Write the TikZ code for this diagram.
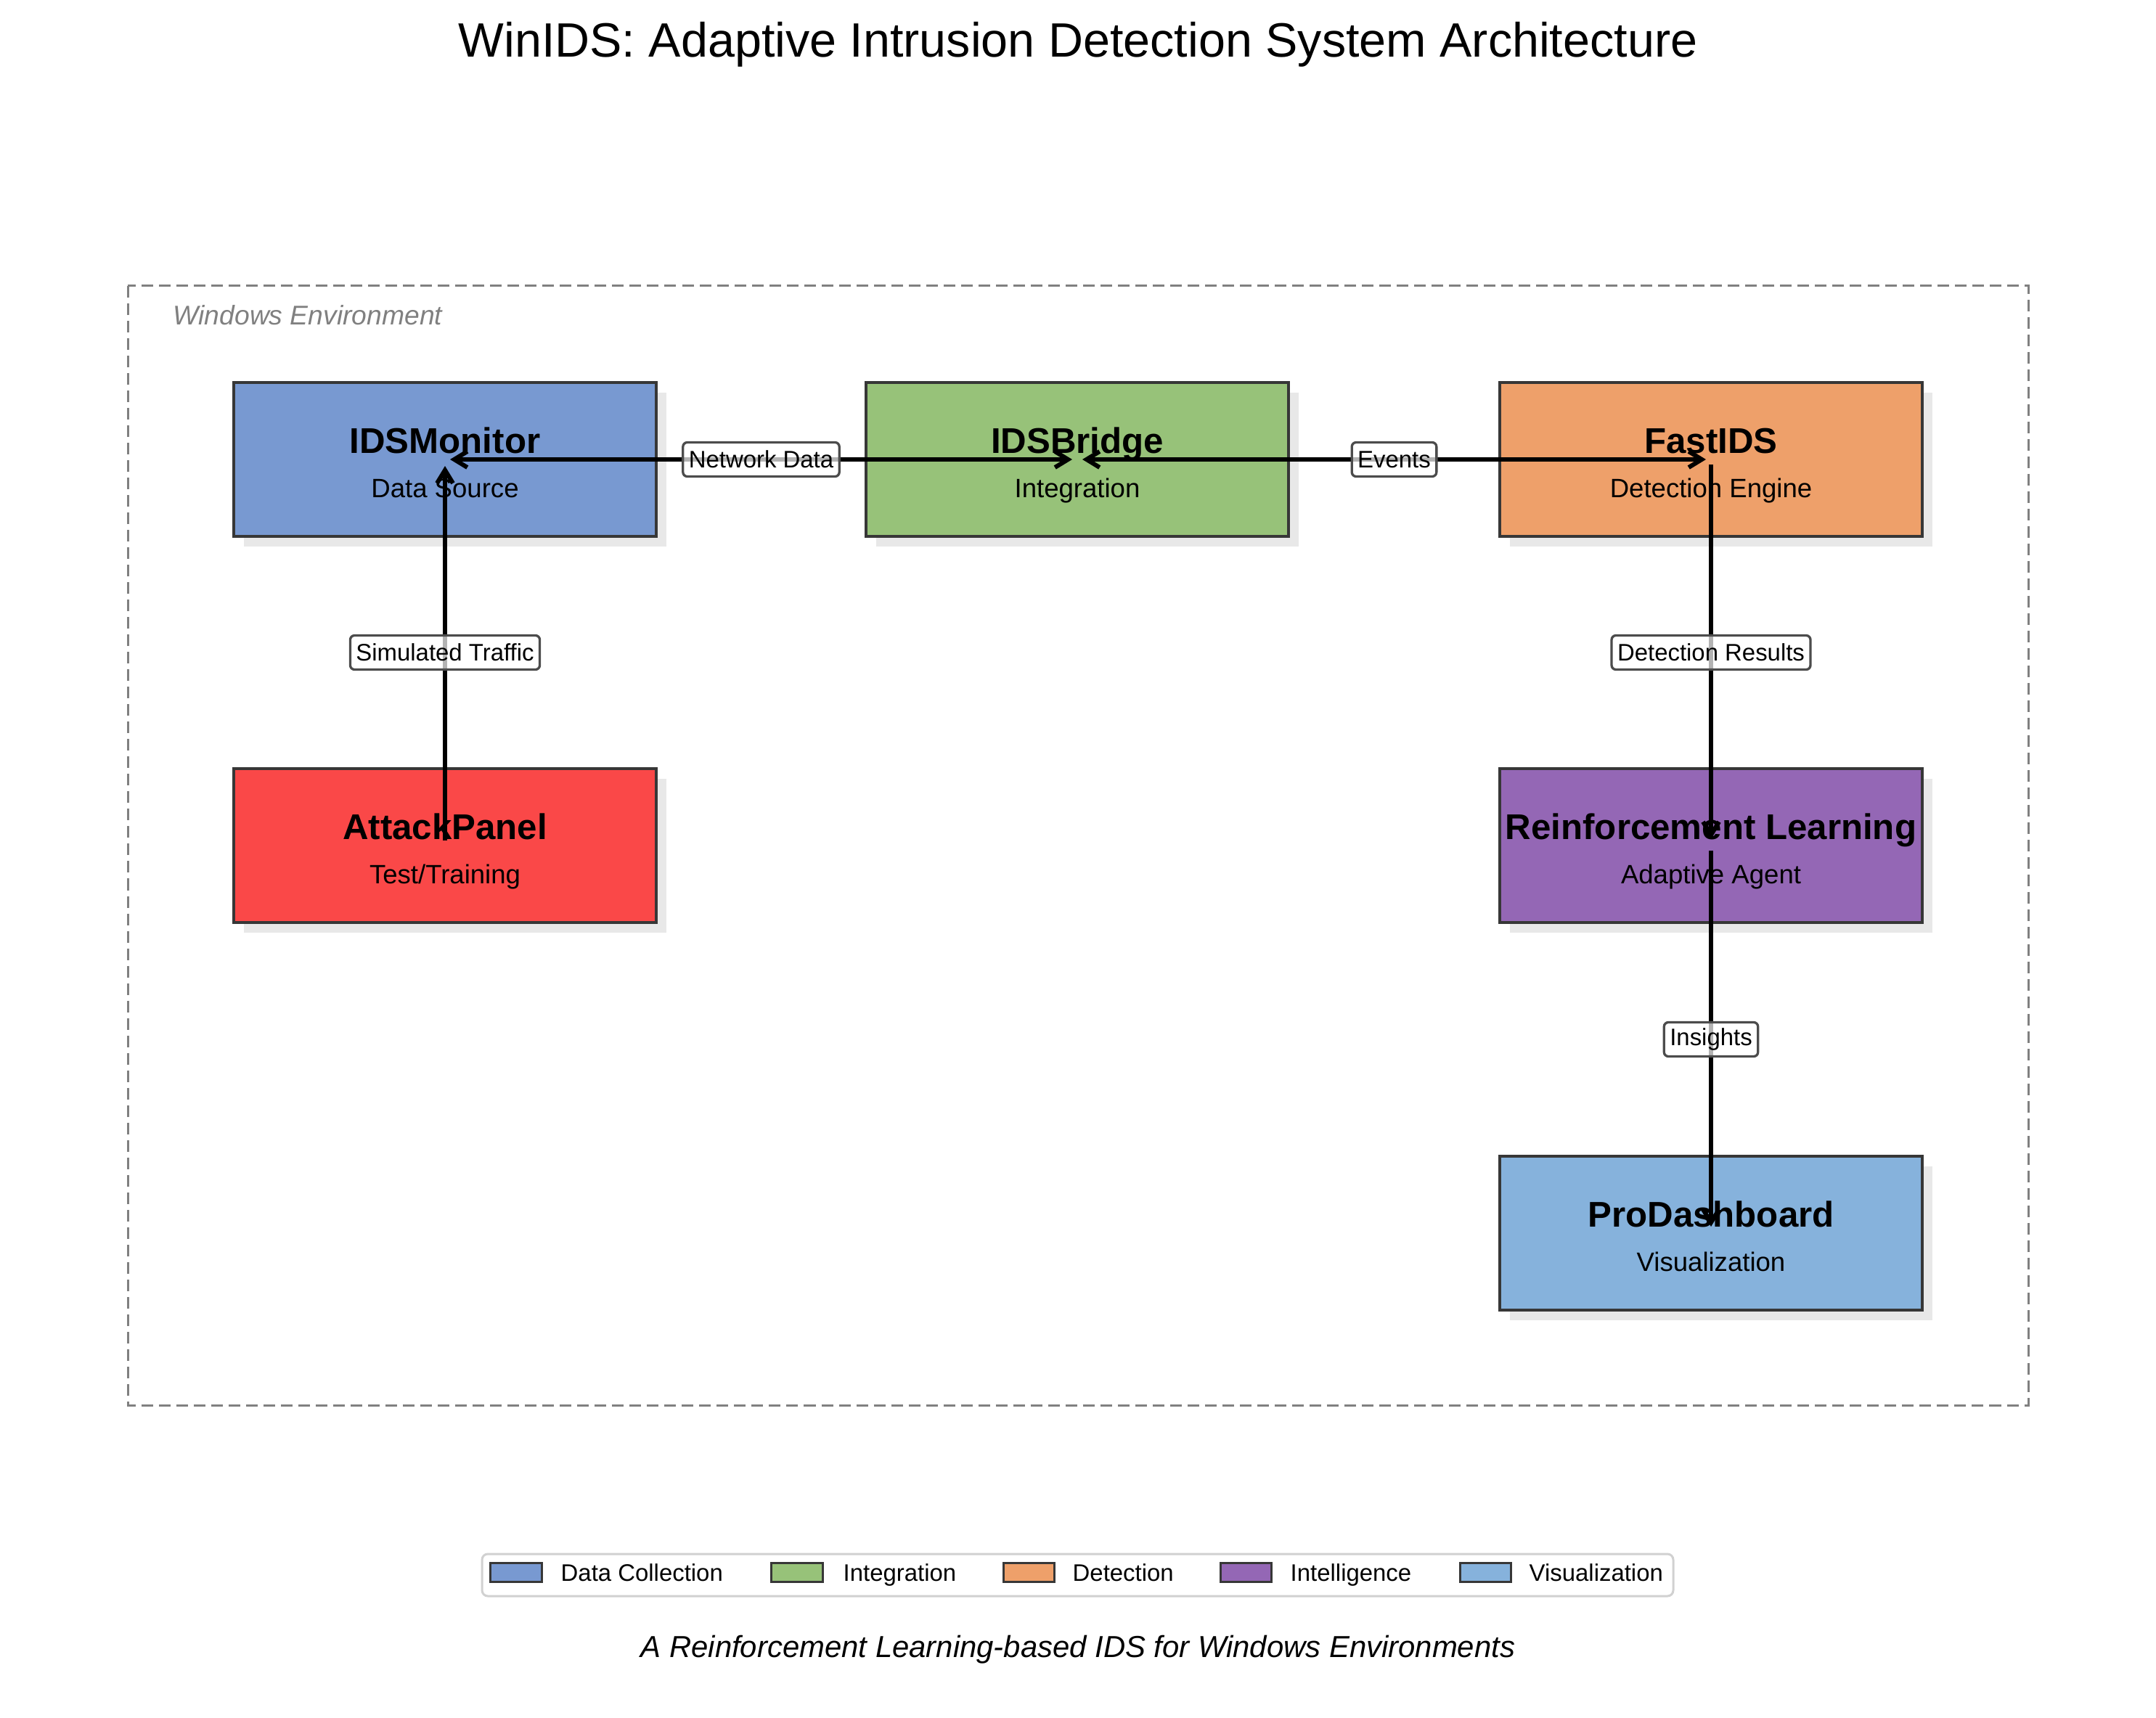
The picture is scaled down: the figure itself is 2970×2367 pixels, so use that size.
\documentclass[tikz,border=0pt]{standalone}
\usepackage{fontspec}
\setmainfont{Liberation Sans}
\usetikzlibrary{arrows.meta}
\definecolor{cmon}{RGB}{120,153,209}
\definecolor{cbri}{RGB}{151,194,121}
\definecolor{cfast}{RGB}{238,160,106}
\definecolor{catk}{RGB}{250,72,72}
\definecolor{crl}{RGB}{148,103,181}
\definecolor{cdash}{RGB}{134,178,220}
\definecolor{cborder}{RGB}{55,55,55}
\definecolor{cshadow}{RGB}{232,232,232}
\definecolor{cenv}{RGB}{128,128,128}
\begin{document}
\begin{tikzpicture}[x=0.01cm,y=-0.01cm,
  comp/.style={draw=cborder, line width=0.04cm, minimum width=5.82cm, minimum height=2.12cm, inner sep=0},
  shadowbox/.style={fill=cshadow, minimum width=5.82cm, minimum height=2.12cm, inner sep=0},
  ctitle/.style={font=\fontsize{14}{16}\selectfont\bfseries, anchor=base, inner sep=0},
  csub/.style={font=\fontsize{10.4}{12}\selectfont, anchor=base, inner sep=0},
  tip/.tip={Straight Barb[length=0.18cm,width=0.22cm]},
  flow/.style={line width=0.06cm, -tip, shorten >=0.09cm, shorten <=0.07cm},
  biflow/.style={line width=0.06cm, tip-tip, shorten >=0.07cm, shorten <=0.07cm},
  elabel/.style={draw=black!70, line width=0.033cm, rounded corners=0.06cm, fill=white, fill opacity=0.7, text opacity=1, font=\fontsize{9.36}{11}\selectfont, inner xsep=0.08cm, inner ysep=0, minimum height=0.47cm},
  envbox/.style={draw=cenv, dash pattern=on 0.16cm off 0.08cm, line width=0.03cm},
  swatch/.style={draw=cborder, line width=0.03cm, minimum width=0.70cm, minimum height=0.26cm, inner sep=0},
  legtext/.style={font=\fontsize{9.36}{11}\selectfont, anchor=base west, inner sep=0}
]
\useasboundingbox (0,0) rectangle (2970,2367);
\node[font=\fontsize{18.9}{22}\selectfont, anchor=base, inner sep=0] (title) at (1485,79) {WinIDS: Adaptive Intrusion Detection System Architecture};

\draw[envbox] (176,394) rectangle (2794,1936);
\node[font=\fontsize{10.6}{12}\selectfont\itshape, text=cenv, anchor=base west, inner sep=0] (env) at (238,447) {Windows Environment};

% shadows
\node[shadowbox] (monS) at (627,647) {};
\node[shadowbox] (briS) at (1498,647) {};
\node[shadowbox] (fastS) at (2371,647) {};
\node[shadowbox] (atkS) at (627,1179) {};
\node[shadowbox] (rlS) at (2371,1179) {};
\node[shadowbox] (dashS) at (2371,1713) {};

% boxes
\node[comp, fill=cmon] (mon) at (613,633) {};
\node[comp, fill=cbri] (bri) at (1484,633) {};
\node[comp, fill=cfast] (fast) at (2357,633) {};
\node[comp, fill=catk] (atk) at (613,1165) {};
\node[comp, fill=crl] (rl) at (2357,1165) {};
\node[comp, fill=cdash] (dash) at (2357,1699) {};

% texts
\node[ctitle] (monT) at (613,624) {IDSMonitor};
\node[csub] (monU) at (613,685) {Data Source};
\node[ctitle] (briT) at (1484,624) {IDSBridge};
\node[csub] (briU) at (1484,685) {Integration};
\node[ctitle] (fastT) at (2357,624) {FastIDS};
\node[csub] (fastU) at (2357,685) {Detection Engine};
\node[ctitle] (atkT) at (613,1156) {AttackPanel};
\node[csub] (atkU) at (613,1217) {Test/Training};
\node[ctitle] (rlT) at (2357,1156) {Reinforcement Learning};
\node[csub] (rlU) at (2357,1217) {Adaptive Agent};
\node[ctitle] (dashT) at (2357,1690) {ProDashboard};
\node[csub] (dashU) at (2357,1751) {Visualization};

% connectors
\draw[biflow] (mon.center) -- (bri.center) node[elabel, midway] (l1) {Network Data};
\draw[biflow] (bri.center) -- (fast.center) node[elabel, midway] (l2) {Events};
\draw[flow] (atk.center) -- (mon.center) node[elabel, midway] (l3) {Simulated Traffic};
\draw[flow] (fast.center) -- (rl.center) node[elabel, midway] (l4) {Detection Results};
\draw[flow] (rl.center) -- (dash.center) node[elabel, midway] (l5) {Insights};

% legend
\node[draw=black!18, line width=0.03cm, rounded corners=0.08cm, fill=white, minimum width=16.40cm, minimum height=0.58cm, inner sep=0] (legend) at (1484.5,2170) {};
\node[swatch, fill=cmon] (sw1) at (711,2166) {};
\node[legtext] (lt1) at (772,2178) {Data Collection};
\node[swatch, fill=cbri] (sw2) at (1098,2166) {};
\node[legtext] (lt2) at (1161,2178) {Integration};
\node[swatch, fill=cfast] (sw3) at (1417,2166) {};
\node[legtext] (lt3) at (1477,2178) {Detection};
\node[swatch, fill=crl] (sw4) at (1716,2166) {};
\node[legtext] (lt4) at (1777,2178) {Intelligence};
\node[swatch, fill=cdash] (sw5) at (2046,2166) {};
\node[legtext] (lt5) at (2106,2178) {Visualization};

\node[font=\fontsize{11.9}{14}\selectfont\itshape, anchor=base, inner sep=0] (caption) at (1485,2283) {A Reinforcement Learning-based IDS for Windows Environments};
\end{tikzpicture}
\end{document}
